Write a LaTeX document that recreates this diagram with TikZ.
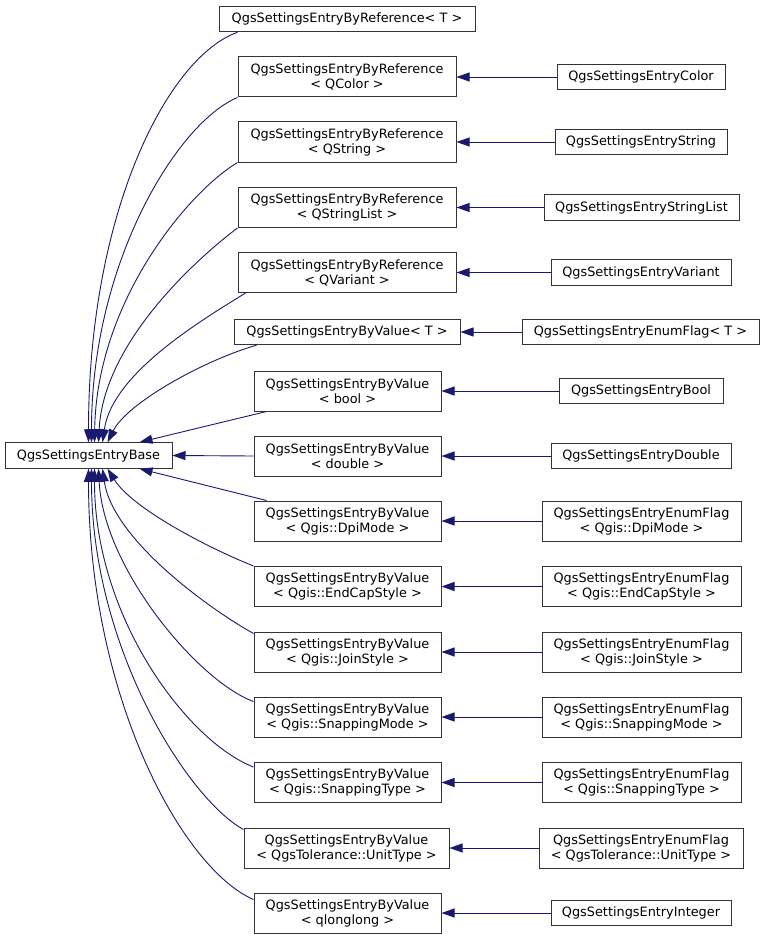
\documentclass[tikz,border=0pt]{standalone}
\usepackage{fontspec}
\setmainfont{DejaVu Sans}
\usetikzlibrary{arrows.meta}
\definecolor{edgecol}{RGB}{25,25,112}
\begin{document}
\begin{tikzpicture}[x=1pt,y=-1pt,
  box/.style={draw=black!80, line width=1pt, fill=white, inner sep=0pt, align=center,
    font=\fontsize{12.85}{15}\selectfont, minimum height=40pt},
  one/.style={minimum height=25.5pt},
  edge/.style={draw=edgecol, line width=0.9pt, -{Triangle[length=13pt,width=9pt]}}]
\fill[white] (0,0) rectangle (765,939);
\useasboundingbox (0,0) rectangle (765,939);

% base
\node[box, one, minimum width=167pt] (base) at (88.5,455.5) {QgsSettingsEntryBase};

% middle column
\node[box, one, minimum width=256pt] (m1) at (347,19) {QgsSettingsEntryByReference< T >};
\node[box, minimum width=218pt] (m2) at (347,77) {QgsSettingsEntryByReference\\< QColor >};
\node[box, minimum width=218pt] (m3) at (347,142) {QgsSettingsEntryByReference\\< QString >};
\node[box, minimum width=218pt] (m4) at (347,207.5) {QgsSettingsEntryByReference\\< QStringList >};
\node[box, minimum width=218pt] (m5) at (347,272.5) {QgsSettingsEntryByReference\\< QVariant >};
\node[box, one, minimum width=226pt] (m6) at (347,332) {QgsSettingsEntryByValue< T >};
\node[box, minimum width=187pt] (m7) at (347.5,391) {QgsSettingsEntryByValue\\< bool >};
\node[box, minimum width=187pt] (m8) at (347.5,456) {QgsSettingsEntryByValue\\< double >};
\node[box, minimum width=187pt] (m9) at (347.5,521) {QgsSettingsEntryByValue\\< Qgis::DpiMode >};
\node[box, minimum width=187pt] (m10) at (347.5,586.5) {QgsSettingsEntryByValue\\< Qgis::EndCapStyle >};
\node[box, minimum width=187pt] (m11) at (347.5,652) {QgsSettingsEntryByValue\\< Qgis::JoinStyle >};
\node[box, minimum width=187pt] (m12) at (347.5,717) {QgsSettingsEntryByValue\\< Qgis::SnappingMode >};
\node[box, minimum width=187pt] (m13) at (347.5,782.5) {QgsSettingsEntryByValue\\< Qgis::SnappingType >};
\node[box, minimum width=205pt] (m14) at (346.5,848) {QgsSettingsEntryByValue\\< QgsTolerance::UnitType >};
\node[box, minimum width=187pt] (m15) at (347.5,913) {QgsSettingsEntryByValue\\< qlonglong >};

% right column
\node[box, one, minimum width=168pt] (r2) at (641,77) {QgsSettingsEntryColor};
\node[box, one, minimum width=172pt] (r3) at (641,142) {QgsSettingsEntryString};
\node[box, one, minimum width=195pt] (r4) at (641.5,207.5) {QgsSettingsEntryStringList};
\node[box, one, minimum width=180pt] (r5) at (641,272.5) {QgsSettingsEntryVariant};
\node[box, one, minimum width=237pt] (r6) at (640.5,332) {QgsSettingsEntryEnumFlag< T >};
\node[box, one, minimum width=164pt] (r7) at (641,391) {QgsSettingsEntryBool};
\node[box, one, minimum width=180pt] (r8) at (641,456) {QgsSettingsEntryDouble};
\node[box, minimum width=199pt] (r9) at (641.5,521) {QgsSettingsEntryEnumFlag\\< Qgis::DpiMode >};
\node[box, minimum width=199pt] (r10) at (641.5,586.5) {QgsSettingsEntryEnumFlag\\< Qgis::EndCapStyle >};
\node[box, minimum width=199pt] (r11) at (641.5,652) {QgsSettingsEntryEnumFlag\\< Qgis::JoinStyle >};
\node[box, minimum width=199pt] (r12) at (641.5,717) {QgsSettingsEntryEnumFlag\\< Qgis::SnappingMode >};
\node[box, minimum width=199pt] (r13) at (641.5,782.5) {QgsSettingsEntryEnumFlag\\< Qgis::SnappingType >};
\node[box, minimum width=204pt] (r14) at (641,848) {QgsSettingsEntryEnumFlag\\< QgsTolerance::UnitType >};
\node[box, one, minimum width=180pt] (r15) at (641,913) {QgsSettingsEntryInteger};

% arrow tip points on the base
\coordinate (t1) at ([xshift=84pt]base.north west);
\coordinate (t2) at ([xshift=87pt]base.north west);
\coordinate (t3) at ([xshift=90pt]base.north west);
\coordinate (t4) at ([xshift=94pt]base.north west);
\coordinate (t5) at ([xshift=98pt]base.north west);
\coordinate (t6) at ([xshift=103pt]base.north west);
\coordinate (t7) at ([xshift=135pt]base.north west);
\coordinate (b9) at ([xshift=135pt]base.south west);
\coordinate (b10) at ([xshift=103pt]base.south west);
\coordinate (b11) at ([xshift=98pt]base.south west);
\coordinate (b12) at ([xshift=94pt]base.south west);
\coordinate (b13) at ([xshift=90pt]base.south west);
\coordinate (b14) at ([xshift=87pt]base.south west);
\coordinate (b15) at ([xshift=84pt]base.south west);

% edges to base
\draw[edge] ([xshift=19pt]m1.south west) .. controls +(-70,25) and +(0,-230) .. (t1);
\draw[edge] (m2.south west) .. controls +(-60,25) and +(0,-180) .. (t2);
\draw[edge] (m3.south west) .. controls +(-50,30) and +(2,-140) .. (t3);
\draw[edge] (m4.south west) .. controls +(-40,30) and +(5,-100) .. (t4);
\draw[edge] ([xshift=8pt]m5.south west) .. controls +(-40,25) and +(10,-70) .. (t5);
\draw[edge] ([xshift=23pt]m6.south west) .. controls +(-50,14) and +(20,-40) .. (t6);
\draw[edge] ([xshift=13pt]m7.south west) -- (t7);
\draw[edge] (m8.west) -- (base.east);
\draw[edge] ([xshift=13pt]m9.north west) -- (b9);
\draw[edge] (m10.north west) .. controls +(-45,-18) and +(25,40) .. (b10);
\draw[edge] ([yshift=-2pt]m11.north west) .. controls +(-45,-25) and +(10,70) .. (b11);
\draw[edge] ([yshift=-5pt]m12.north west) .. controls +(-55,-20) and +(5,100) .. (b12);
\draw[edge] ([yshift=-5pt]m13.north west) .. controls +(-65,-25) and +(0,150) .. (b13);
\draw[edge] ([yshift=-2pt]m14.north west) .. controls +(-55,-30) and +(0,180) .. (b14);
\draw[edge] ([yshift=-7pt]m15.north west) .. controls +(-70,-30) and +(0,230) .. (b15);

% edges from right column
\draw[edge] (r2) -- (m2);
\draw[edge] (r3) -- (m3);
\draw[edge] (r4) -- (m4);
\draw[edge] (r5) -- (m5);
\draw[edge] (r6) -- (m6);
\draw[edge] (r7) -- (m7);
\draw[edge] (r8) -- (m8);
\draw[edge] (r9) -- (m9);
\draw[edge] (r10) -- (m10);
\draw[edge] (r11) -- (m11);
\draw[edge] (r12) -- (m12);
\draw[edge] (r13) -- (m13);
\draw[edge] (r14) -- (m14);
\draw[edge] (r15) -- (m15);
\end{tikzpicture}
\end{document}
